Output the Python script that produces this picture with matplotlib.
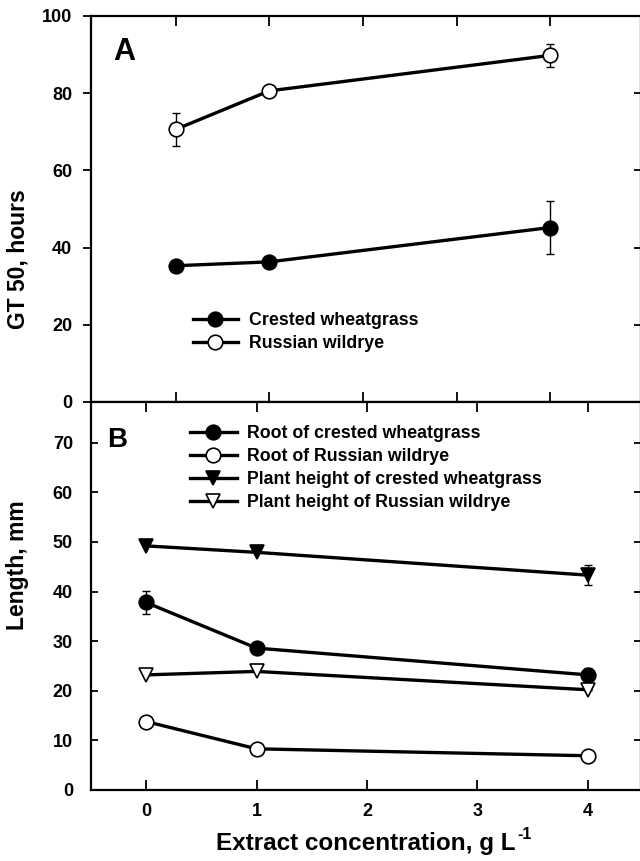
import matplotlib
matplotlib.use("Agg")
import matplotlib.pyplot as plt

plt.rcParams['font.family'] = ['Liberation Sans', 'DejaVu Sans']
plt.rcParams['font.weight'] = 'bold'

# ---- data ----
conc = [0, 1, 4]

gt50_crested = [35.3, 36.3, 45.2]
gt50_crested_err = [0.0, 0.0, 6.8]
gt50_russian = [70.6, 80.6, 89.8]
gt50_russian_err = [4.3, 0.0, 2.9]

root_crested = [37.8, 28.6, 23.2]
root_crested_err = [2.3, 0.0, 1.3]
root_russian = [13.8, 8.3, 6.9]
root_russian_err = [0.0, 0.0, 0.0]
height_crested = [49.2, 47.9, 43.3]
height_crested_err = [0.0, 0.0, 2.0]
height_russian = [23.2, 23.9, 20.2]
height_russian_err = [0.0, 0.0, 0.0]

xticks = [0, 1, 2, 3, 4]
yticks_a = [0, 20, 40, 60, 80, 100]
yticks_b = [0, 10, 20, 30, 40, 50, 60, 70]

W, H = 640, 861
fig = plt.figure(figsize=(W / 100, H / 100), dpi=100)

def fx(px):
    return px / W

def fy(py):
    return 1 - py / H

L, R = 91, 641
axA = fig.add_axes([fx(L), fy(402), fx(R) - fx(L), fy(16) - fy(402)])
axB = fig.add_axes([fx(L), fy(790), fx(R) - fx(L), fy(402) - fy(790)])

lw = 2.4
ms_c = 10.5
ms_t = 10

TICK_FS = 13
LEG_FS = 12.8
LAB_FS = 16.5

def series(ax, x, y, e, marker, filled, ms, label):
    ax.errorbar(x, y, yerr=e, fmt='none', ecolor='black', elinewidth=1.0,
                capsize=3, capthick=1.0, zorder=2)
    ax.plot(x, y, color='black', lw=lw, marker=marker, ms=ms,
            mfc='black' if filled else 'white', mec='black', mew=1.2,
            zorder=3, label=label)

# Panel A
series(axA, conc, gt50_crested, gt50_crested_err, 'o', True, ms_c, 'Crested wheatgrass')
series(axA, conc, gt50_russian, gt50_russian_err, 'o', False, ms_c, 'Russian wildrye')
axA.set_xlim(-0.903, 4.97)
axA.set_ylim(0, 100)
axA.set_xticks(xticks)
axA.set_xticklabels([])
axA.set_yticks(yticks_a)
axA.tick_params(axis='x', which='both', direction='in', top=True, bottom=True,
                length=7, width=1.3)
axA.tick_params(axis='y', which='both', direction='out', left=True, right=False,
                length=6, width=1.3, labelsize=TICK_FS, pad=7.5)
axA2 = axA.secondary_yaxis('right')
axA2.set_yticks([20, 40, 60, 80])
axA2.tick_params(direction='in', length=5, width=1.3, labelright=False)
axA.set_ylabel('GT 50, hours', fontsize=LAB_FS, fontweight='bold')
axA.yaxis.set_label_coords(-0.112, 0.37)
axA.text(0.04, 0.906, 'A', transform=axA.transAxes, fontsize=22,
         fontweight='bold', ha='left', va='center')
axA.legend(loc='upper left', bbox_to_anchor=(0.185, 0.232), frameon=False,
           borderpad=0, borderaxespad=0, handlelength=2.55,
           handletextpad=0.6, labelspacing=0.3, numpoints=1,
           prop={'size': LEG_FS, 'weight': 'bold'})

# Panel B
series(axB, conc, root_crested, root_crested_err, 'o', True, ms_c, 'Root of crested wheatgrass')
series(axB, conc, root_russian, root_russian_err, 'o', False, ms_c, 'Root of Russian wildrye')
series(axB, conc, height_crested, height_crested_err, 'v', True, ms_t, 'Plant height of crested wheatgrass')
series(axB, conc, height_russian, height_russian_err, 'v', False, ms_t, 'Plant height of Russian wildrye')
axB.set_xlim(-0.498, 4.48)
axB.set_ylim(0, 78.2)
axB.set_xticks(xticks)
axB.set_yticks(yticks_b)
axB.tick_params(axis='x', which='both', direction='in', top=True, bottom=True,
                length=7, width=1.3, labelsize=TICK_FS, pad=9.5)
axB.tick_params(axis='y', which='both', direction='in', left=True, right=True,
                length=5, width=1.3, labelsize=TICK_FS, pad=13)
axB.set_ylabel('Length, mm', fontsize=LAB_FS, fontweight='bold')
axB.yaxis.set_label_coords(-0.112, 0.58)
xl = axB.set_xlabel('Extract concentration, g L', fontsize=17.5,
                    fontweight='bold', labelpad=8.5)
axB.text(0.029, 0.902, 'B', transform=axB.transAxes, fontsize=20,
         fontweight='bold', ha='left', va='center')
axB.legend(loc='upper left', bbox_to_anchor=(0.18, 0.941), frameon=False,
           borderpad=0, borderaxespad=0, handlelength=2.64,
           handletextpad=0.56, labelspacing=0.34, numpoints=1,
           prop={'size': LEG_FS, 'weight': 'bold'})

for ax in (axA, axB):
    for s in ax.spines.values():
        s.set_linewidth(1.6)
axA2.spines['right'].set_linewidth(1.6)

# superscript "-1" after the x label
fig.canvas.draw()
bb = xl.get_window_extent()
fig.text((bb.x1 + 2) / W, (bb.y1 + 5) / H, '-1', fontsize=11.5,
         fontweight='bold', ha='left', va='top')

fig.savefig('out.png', dpi=100)
